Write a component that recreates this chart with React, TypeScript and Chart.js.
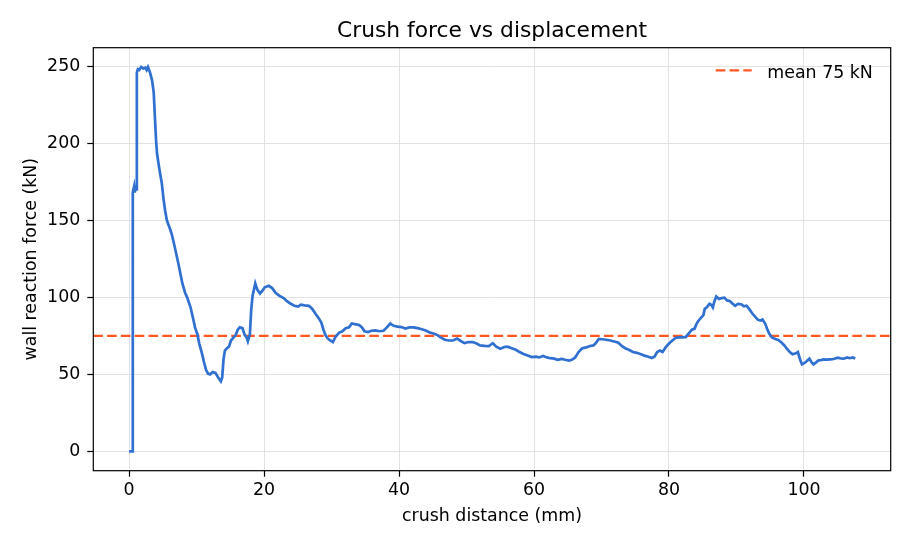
import { useEffect, useRef } from "react";
import { Chart, registerables } from "chart.js";

Chart.register(...registerables);

// crush distance (mm) and wall reaction force (kN)
const distanceMm = [
  0, 0.55, 0.55, 0.75, 0.85, 0.95, 1.1, 1.15, 1.3, 1.5,
  1.8, 2.1, 2.4, 2.6, 2.8, 3.1, 3.4, 3.65, 3.85, 4.0,
  4.15, 4.5, 4.85, 5.1, 5.35, 5.6, 5.85, 6.1, 6.35, 6.7,
  7.1, 7.35, 7.6, 7.9, 8.3, 8.6, 9.1, 9.5, 9.8, 10.1,
  10.4, 10.8, 11.1, 11.4, 11.7, 12.0, 12.4, 12.8, 13.2, 13.6,
  13.8, 14.0, 14.2, 14.5, 14.8, 15.1, 15.4, 15.8, 16.1, 16.4,
  16.8, 17.1, 17.4, 17.6, 17.9, 18.1, 18.3, 18.7, 19.0, 19.4,
  19.8, 20.1, 20.7, 21.2, 21.7, 22.3, 22.9, 23.4, 23.9, 24.5,
  25.05, 25.45, 26.05, 26.65, 27.15, 27.6, 28.1, 28.5, 28.8, 29.1,
  29.4, 29.8, 30.2, 30.6, 31.1, 31.6, 32.1, 32.6, 33.0, 33.6,
  34.1, 34.5, 34.9, 35.4, 35.9, 36.5, 37.1, 37.7, 38.2, 38.7,
  39.2, 39.8, 40.35, 40.95, 41.55, 42.15, 42.75, 43.25, 43.95, 44.55,
  45.1, 45.7, 46.2, 46.8, 47.4, 48.0, 48.6, 49.2, 49.7, 50.3,
  50.9, 51.5, 52.0, 52.7, 53.3, 53.9, 54.4, 55.0, 55.6, 56.1,
  56.7, 57.3, 57.85, 58.45, 59.05, 59.65, 60.25, 60.75, 61.35, 61.9,
  62.4, 63.0, 63.5, 64.1, 64.6, 65.2, 65.6, 66.1, 66.6, 67.1,
  67.7, 68.3, 68.8, 69.2, 69.6, 70.1, 70.7, 71.3, 71.9, 72.5,
  73.0, 73.5, 74.05, 74.65, 75.25, 75.75, 76.35, 76.95, 77.45, 77.85,
  78.25, 78.65, 79.05, 79.5, 80.0, 80.5, 81.0, 81.5, 82.0, 82.5,
  83.0, 83.4, 83.8, 84.1, 84.4, 84.8, 85.1, 85.3, 85.6, 86.0,
  86.3, 86.5, 86.7, 87.0, 87.4, 87.8, 88.2, 88.6, 89.0, 89.4,
  89.8, 90.2, 90.7, 91.1, 91.5, 91.95, 92.35, 92.75, 93.15, 93.55,
  93.85, 94.25, 94.55, 94.85, 95.25, 95.75, 96.2, 96.7, 97.1, 97.5,
  97.9, 98.3, 98.7, 99.1, 99.4, 99.7, 100.1, 100.4, 100.8, 101.1,
  101.4, 101.8, 102.1, 102.5, 102.9, 103.4, 103.9, 104.4, 105.0, 105.5,
  105.9, 106.4, 106.8, 107.2, 107.6,
];

const forceKN = [
  0, 0, 168, 172, 168, 171, 170, 246, 248, 247.5,
  249.5, 248.5, 249, 247.5, 249.5, 246, 241, 233, 215, 202,
  193, 183, 174, 164, 156, 150, 147, 144, 140.5, 134,
  126, 121, 115.5, 109, 103, 100, 93.7, 86, 80, 76.4,
  70, 63.6, 58, 53, 50.5, 50, 51.5, 51, 48, 45.5,
  48, 60, 65.5, 67, 68, 72, 73.5, 75.5, 79, 80.5,
  80, 76, 74, 71.5, 76, 92, 101, 109, 105, 102.5,
  104.5, 106.5, 107.5, 106, 103, 101, 99.5, 97.5, 96, 94.5,
  94, 95.2, 94.8, 94.5, 92.5, 89.5, 86.5, 83.5, 79, 75.5,
  73.5, 72, 71, 74.5, 77, 78, 80, 80.5, 83, 82.5,
  82, 80.5, 78, 77.5, 78.3, 78.5, 78, 78.3, 80.5, 83,
  81.5, 81, 80.7, 79.8, 80.5, 80.5, 80, 79.5, 78.5, 77.2,
  76.5, 75.5, 73.8, 72.5, 72, 72, 73.2, 71.5, 70.3, 71,
  71, 70, 68.8, 68.5, 68.4, 70.2, 68, 66.7, 67.8, 68,
  67, 66, 64.5, 63.2, 62.2, 61.2, 61.5, 61, 62, 61,
  60.5, 60.2, 59.5, 60, 59.5, 59, 59.5, 61, 64.5, 66.8,
  67.5, 68.4, 68.8, 70.5, 73, 72.8, 72.5, 72, 71.3, 70.5,
  68.5, 67, 66, 64.5, 64, 63.2, 62.2, 61.5, 60.6, 61.5,
  64.5, 65.5, 64.5, 67.5, 70, 72, 73.8, 74, 74, 74.3,
  77, 79, 79.7, 83, 85, 87, 88.5, 92.5, 93.5, 95.8,
  95, 93.5, 97, 100.5, 99, 99.5, 99.8, 98, 97.6, 96,
  94.5, 95.8, 95.5, 94.2, 94.6, 92, 89.5, 87.5, 85.5, 85,
  85.6, 83, 79.5, 76.5, 74, 73, 72.3, 70.5, 68.8, 66.5,
  64.5, 63, 63.5, 64.5, 60, 56.5, 57.5, 58.5, 60.2, 58,
  56.5, 57.8, 59, 59.2, 59.7, 59.6, 59.8, 60, 60.8, 60.3,
  60.2, 61, 60.5, 61, 60.3,
];

const meanForceKN = 75;
const meanLabel = "mean 75 kN";

const xTicks = [0, 20, 40, 60, 80, 100];
const yTicks = [0, 50, 100, 150, 200, 250];

const X_MIN = -5.3;
const X_MAX = 112.85;
const Y_MIN = -12.5;
const Y_MAX = 262;

const FONT = "DejaVu Sans";
const CURVE_COLOR = "#3070d0";
const MEAN_COLOR = "#ff5722";
const MEAN_DASH = [9.6, 4.2];

// matplotlib-style frame, title and in-axes legend
const decorations = {
  id: "decorations",
  afterDraw(chart: Chart) {
    const { ctx, chartArea } = chart;
    const { left, top, right, bottom } = chartArea;
    ctx.save();

    ctx.strokeStyle = "#000";
    ctx.lineWidth = 1.2;
    ctx.strokeRect(left, top, right - left, bottom - top);

    ctx.fillStyle = "#000";
    ctx.font = `21.8px "${FONT}"`;
    ctx.textAlign = "center";
    ctx.textBaseline = "alphabetic";
    ctx.fillText("Crush force vs displacement", (left + right) / 2, 36.7);

    ctx.strokeStyle = MEAN_COLOR;
    ctx.lineWidth = 2.2;
    ctx.setLineDash(MEAN_DASH);
    ctx.beginPath();
    ctx.moveTo(right - 175, top + 22.6);
    ctx.lineTo(right - 139, top + 22.6);
    ctx.stroke();
    ctx.setLineDash([]);

    ctx.font = `17.4px "${FONT}"`;
    ctx.textAlign = "left";
    ctx.fillText(meanLabel, right - 123.4, top + 30);

    ctx.restore();
  },
};

export default function App() {
  const canvasRef = useRef<HTMLCanvasElement | null>(null);

  useEffect(() => {
    if (!canvasRef.current) return;

    const curve = distanceMm.map((x, i) => ({ x, y: forceKN[i] }));
    const meanLine = [
      { x: X_MIN, y: meanForceKN },
      { x: X_MAX, y: meanForceKN },
    ];

    const tickFont = { family: FONT, size: 17.4 };

    const chart = new Chart(canvasRef.current.getContext("2d")!, {
      type: "line",
      data: {
        datasets: [
          {
            label: "force",
            data: curve,
            borderColor: CURVE_COLOR,
            borderWidth: 2.7,
            pointRadius: 0,
            tension: 0,
            fill: false,
          },
          {
            label: meanLabel,
            data: meanLine,
            borderColor: MEAN_COLOR,
            borderWidth: 2.2,
            borderDash: MEAN_DASH,
            pointRadius: 0,
            fill: false,
          },
        ],
      },
      options: {
        animation: false,
        responsive: true,
        maintainAspectRatio: false,
        layout: { padding: { top: 47.7, right: 19.3, left: 0, bottom: 0 } },
        plugins: {
          legend: { display: false },
          tooltip: { enabled: false },
          title: { display: false },
        },
        scales: {
          x: {
            type: "linear",
            min: X_MIN,
            max: X_MAX,
            afterBuildTicks: (axis: any) => {
              axis.ticks = xTicks.map((value) => ({ value }));
            },
            afterFit: (axis: any) => {
              axis.height = 75.3;
            },
            grid: {
              color: "#e2e2e2",
              lineWidth: 1,
              tickLength: 6,
              tickColor: "#000",
              tickWidth: 1.2,
            },
            border: { display: false },
            ticks: {
              font: tickFont,
              color: "#000",
              padding: 3.7,
              maxRotation: 0,
              autoSkip: false,
            },
            title: {
              display: true,
              text: "crush distance (mm)",
              font: tickFont,
              color: "#000",
              padding: { top: 0, bottom: 19 },
            },
          },
          y: {
            type: "linear",
            min: Y_MIN,
            max: Y_MAX,
            afterBuildTicks: (axis: any) => {
              axis.ticks = yTicks.map((value) => ({ value }));
            },
            afterFit: (axis: any) => {
              axis.width = 93.3;
            },
            grid: {
              color: "#e2e2e2",
              lineWidth: 1,
              tickLength: 6,
              tickColor: "#000",
              tickWidth: 1.2,
            },
            border: { display: false },
            ticks: {
              font: tickFont,
              color: "#000",
              padding: 7,
              autoSkip: false,
            },
            title: {
              display: true,
              text: "wall reaction force (kN)",
              font: tickFont,
              color: "#000",
              padding: { top: 20.6, bottom: 0 },
            },
          },
        },
      },
      plugins: [decorations],
    });

    return () => {
      chart.destroy();
    };
  }, []);

  return (
    <div
      style={{
        position: "absolute",
        left: 0,
        top: 0,
        width: "910px",
        height: "546px",
        background: "#fff",
      }}
    >
      <canvas ref={canvasRef}></canvas>
    </div>
  );
}
